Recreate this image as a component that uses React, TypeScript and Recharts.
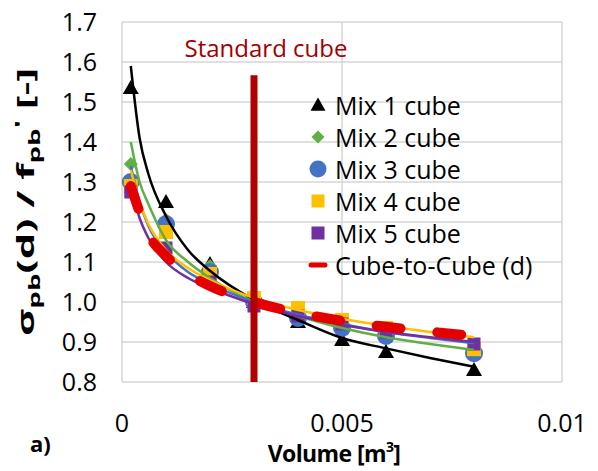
import {
  ComposedChart,
  Scatter,
  XAxis,
  YAxis,
  CartesianGrid,
  ReferenceLine,
  Legend,
} from "recharts";

// measured cube volumes [m3]
const pointX = [0.0002, 0.001, 0.002, 0.003, 0.004, 0.005, 0.006, 0.008];
const mix1 = [1.535, 1.25, 1.095, 1.0, 0.95, 0.905, 0.875, 0.83];
const mix2 = [1.345, 1.205, 1.09, 1.005, 0.97, 0.935, 0.91, 0.88];
const mix3 = [1.3, 1.195, 1.075, 1.0, 0.96, 0.935, 0.915, 0.872];
const mix4 = [1.29, 1.175, 1.07, 1.01, 0.985, 0.955, 0.935, 0.882];
const mix5 = [1.275, 1.135, 1.05, 0.99, 0.965, 0.945, 0.925, 0.895];

// trend lines and size-effect curve
const trendX = [0.0002, 0.0004, 0.0006, 0.001, 0.0015, 0.002, 0.003, 0.004, 0.005, 0.006, 0.007, 0.008];
const mix1Trend = [1.59, 1.41, 1.32, 1.215, 1.13, 1.078, 1.005, 0.955, 0.91, 0.884, 0.86, 0.838];
const mix2Trend = [1.4, 1.3, 1.245, 1.155, 1.1, 1.06, 1.0, 0.965, 0.935, 0.912, 0.895, 0.88];
const mix3Trend = [1.34, 1.25, 1.19, 1.125, 1.075, 1.045, 1.0, 0.968, 0.945, 0.925, 0.91, 0.897];
const mix4Trend = [1.33, 1.25, 1.195, 1.13, 1.085, 1.055, 1.01, 0.98, 0.958, 0.94, 0.925, 0.912];
const mix5Trend = [1.29, 1.21, 1.16, 1.1, 1.06, 1.035, 0.995, 0.965, 0.943, 0.925, 0.912, 0.9];
const cubeToCube = [1.29, 1.225, 1.17, 1.115, 1.07, 1.04, 1.0, 0.973, 0.953, 0.938, 0.926, 0.915];

const xTicks = [0, 0.005, 0.01];
const yTicks = [0.8, 0.9, 1.0, 1.1, 1.2, 1.3, 1.4, 1.5, 1.6, 1.7];
const standardCubeX = [0.003, 0.003];
const standardCubeY = [1.567, 0.8];

const seriesNames = ["Mix 1 cube", "Mix 2 cube", "Mix 3 cube", "Mix 4 cube", "Mix 5 cube", "Cube-to-Cube (d)"];
const colors = ["#000000", "#5fae48", "#4472c4", "#ffc000", "#7030a0", "#e50000"];

const FONT = '"Open Sans", sans-serif';

const pts = (xs: number[], ys: number[]) => xs.map((x, i) => ({ x, y: ys[i] }));

const triangle = (c: string, s = 8) => (p: any) => (
  <polygon points={`${p.cx},${p.cy - s} ${p.cx - s},${p.cy + s * 0.75} ${p.cx + s},${p.cy + s * 0.75}`} fill={c} />
);
const diamond = (c: string, s = 7) => (p: any) => (
  <polygon points={`${p.cx},${p.cy - s} ${p.cx + s},${p.cy} ${p.cx},${p.cy + s} ${p.cx - s},${p.cy}`} fill={c} />
);
const circle = (c: string, r = 9) => (p: any) => <circle cx={p.cx} cy={p.cy} r={r} fill={c} />;
const square = (c: string, s = 7) => (p: any) => (
  <rect x={p.cx - s} y={p.cy - s} width={s * 2} height={s * 2} fill={c} />
);
const noMarker = () => <g />;

const markerShapes = [triangle(colors[0]), diamond(colors[1]), circle(colors[2]), square(colors[3]), square(colors[4], 6.5)];

const legendIcon = (i: number) => {
  const p = { cx: 11, cy: 16 };
  if (i === 0) return triangle(colors[0], 7.5)(p);
  if (i === 1) return diamond(colors[1], 6.5)(p);
  if (i === 2) return circle(colors[2], 8.5)(p);
  if (i === 3) return square(colors[3], 6.5)(p);
  if (i === 4) return square(colors[4], 6.5)(p);
  return <line x1={4} y1={16} x2={18} y2={16} stroke={colors[5]} strokeWidth={5} strokeLinecap="round" />;
};

const renderLegend = () => (
  <div style={{ fontFamily: FONT, fontSize: 25, color: "#000" }}>
    {seriesNames.map((name, i) => (
      <div key={name} style={{ display: "flex", alignItems: "center", height: 32, whiteSpace: "nowrap" }}>
        <svg width={22} height={32}>{legendIcon(i)}</svg>
        <span style={{ marginLeft: 6 }}>{name}</span>
      </div>
    ))}
  </div>
);

const YTitle = () => (
  <text
    x={34}
    y={202}
    transform="rotate(-90 34 202)"
    textAnchor="middle"
    fontFamily={FONT}
    fontSize={24}
    fontWeight="bold"
    fill="#000"
    textLength={268}
    lengthAdjust="spacingAndGlyphs"
  >
    σ<tspan fontSize={16} dy={6}>pb</tspan>
    <tspan dy={-6}>(d) / f</tspan>
    <tspan fontSize={16} dy={6}>pb</tspan>
    <tspan fontSize={18} dy={-12}>'</tspan>
    <tspan dy={6}> [-]</tspan>
  </text>
);

const XTitle = () => (
  <text x={334} y={462} textAnchor="middle" fontFamily={FONT} fontSize={23} fontWeight="bold" fill="#000" letterSpacing={-0.6}>
    Volume [m<tspan fontSize={14} dy={-10}>3</tspan>
    <tspan dy={10}>]</tspan>
  </text>
);

export default function App() {
  const trends = [mix1Trend, mix2Trend, mix3Trend, mix4Trend, mix5Trend];
  const mixes = [mix1, mix2, mix3, mix4, mix5];

  return (
    <div style={{ position: "absolute", left: 0, top: 0, width: 598, height: 471, background: "#fff" }}>
      <ComposedChart width={598} height={471} margin={{ top: 22, right: 36, bottom: 0, left: 0 }}>
        <CartesianGrid stroke="#d6d6d6" strokeWidth={1.5} />

        <XAxis
          type="number"
          dataKey="x"
          domain={[0, 0.01]}
          ticks={xTicks}
          height={89}
          axisLine={false}
          tickLine={false}
          tickSize={6}
          tickMargin={26}
          tick={{ fill: "#000", fontSize: 25, fontFamily: FONT }}
          label={{ content: () => <XTitle /> }}
        />
        <YAxis
          type="number"
          dataKey="y"
          domain={[0.8, 1.7]}
          ticks={yTicks}
          width={122}
          axisLine={false}
          tickLine={false}
          tickSize={6}
          tickMargin={19}
          tickFormatter={(v: number) => v.toFixed(1)}
          tick={{ fill: "#000", fontSize: 25, fontFamily: FONT }}
          label={{ content: () => <YTitle /> }}
        />

        {mixes.map((m, i) => (
          <Scatter
            key={seriesNames[i]}
            name={seriesNames[i]}
            data={pts(pointX, m)}
            shape={markerShapes[i]}
            isAnimationActive={false}
          />
        ))}

        {/* power trend lines of each mix */}
        {trends.map((t, i) => (
          <Scatter
            key={"trend" + i}
            data={pts(trendX, t)}
            shape={noMarker}
            line={{ stroke: colors[i], strokeWidth: 2.5 }}
            lineJointType="monotoneX"
            isAnimationActive={false}
          />
        ))}

        {/* Cube-to-Cube (d): thick red dashed curve */}
        <Scatter
          name={seriesNames[5]}
          data={pts(trendX, cubeToCube)}
          shape={noMarker}
          line={{ stroke: colors[5], strokeWidth: 10, strokeDasharray: "24 37", strokeLinecap: "round" }}
          lineJointType="monotoneX"
          isAnimationActive={false}
        />

        {/* standard cube bar, drawn last so it sits on top */}
        <Scatter
          data={pts(standardCubeX, standardCubeY)}
          shape={noMarker}
          line={{ stroke: "#b00000", strokeWidth: 7 }}
          isAnimationActive={false}
        />

        <ReferenceLine
          segment={[
            { x: standardCubeX[0], y: standardCubeY[0] },
            { x: standardCubeX[1], y: standardCubeY[1] },
          ]}
          stroke="none"
          label={{
            content: (p: any) => (
              <text
                x={p.viewBox.x + 12}
                y={p.viewBox.y - 18}
                textAnchor="middle"
                fontFamily={FONT}
                fontSize={24}
                fill="#a00000"
              >
                Standard cube
              </text>
            ),
          }}
        />

        <Legend
          layout="vertical"
          align="center"
          verticalAlign="middle"
          wrapperStyle={{ left: 307, top: 89, width: "auto", height: "auto" }}
          content={renderLegend}
        />
      </ComposedChart>
      <div
        style={{
          position: "absolute",
          left: 30,
          top: 428,
          fontFamily: FONT,
          fontSize: 22,
          fontWeight: "bold",
          color: "#000",
        }}
      >
        a)
      </div>
    </div>
  );
}
